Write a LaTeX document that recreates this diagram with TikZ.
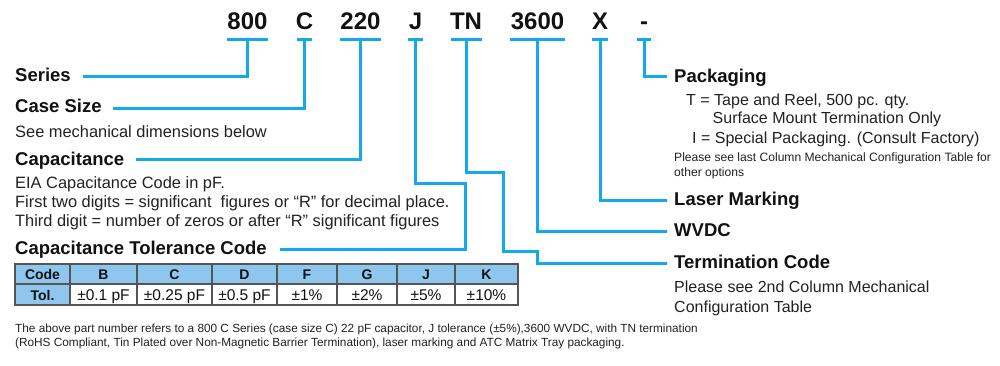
\documentclass[tikz,border=0pt]{standalone}
\usepackage{fontspec}
\setmainfont{Liberation Sans}
\usetikzlibrary{calc}
\definecolor{lineblue}{HTML}{12AAEB}
\definecolor{cellblue}{HTML}{8EC6EE}
\definecolor{txt}{HTML}{111111}
\definecolor{bodytxt}{HTML}{222222}
\definecolor{gridgray}{HTML}{555555}
\begin{document}
\begin{tikzpicture}[x=1pt,y=-1pt,
  conn/.style={draw=lineblue,line width=3pt},
  codelbl/.style={font=\fontsize{24}{24}\selectfont\bfseries,text=txt,anchor=base,
    inner sep=0pt,text height=17pt,text depth=9pt},
  hd/.style={font=\fontsize{18.5}{20}\selectfont\bfseries,text=txt,anchor=base west,inner sep=0pt},
  bd/.style={font=\fontsize{16}{19}\selectfont,text=bodytxt,anchor=base west,inner sep=0pt},
  bdcase/.style={font=\fontsize{16.4}{19}\selectfont,text=bodytxt,anchor=base west,inner sep=0pt},
  bdsmall/.style={font=\fontsize{16.4}{19}\selectfont,text=bodytxt,anchor=base west,inner sep=0pt},
  note/.style={font=\fontsize{12.1}{14}\selectfont,text=bodytxt,anchor=base west,inner sep=0pt},
  fn/.style={font=\fontsize{11.8}{14}\selectfont,text=bodytxt,anchor=base west,inner sep=0pt},
  cell/.style={draw=gridgray,line width=1.5pt,inner sep=0pt,anchor=center,text=txt},
  headcell/.style={cell,fill=cellblue,font=\fontsize{14}{14}\selectfont\bfseries,
    text height=10.5pt,text depth=0pt,minimum height=20pt},
  valcell/.style={cell,fill=white,font=\fontsize{15.5}{15}\selectfont,
    text height=11pt,text depth=0pt,minimum height=21pt},
]
\useasboundingbox[fill=white] (0,0) rectangle (1000,366);

% ---- part number codes ----
\node[codelbl] (n800)  at (247.5,30) {800};
\node[codelbl] (nC)    at (304.5,30) {C};
\node[codelbl] (n220)  at (360.5,30) {220};
\node[codelbl] (nJ)    at (415.5,30) {J};
\node[codelbl] (nTN)   at (466,30)   {TN};
\node[codelbl] (n3600) at (537.5,30) {3600};
\node[codelbl] (nX)    at (600,30)   {X};
\node[codelbl] (ndash) at (644,30)   {-};

% underlines
\foreach \n/\hw in {n800/20.5,nC/7.5,n220/20.5,nJ/7.5,nTN/15.5,n3600/27.5,nX/8,ndash/7}{
  \draw[conn] ($(\n.south)+(-\hw,0)$) -- ($(\n.south)+(\hw,0)$);
}

% ---- left headings and texts ----
\node[hd] (series) at (15,82) {Series};
\node[hd] (casesize) at (15,113) {Case Size};
\node[bdcase] (casetxt) at (15,138) {See mechanical dimensions below};
\node[hd] (cap) at (15,165) {Capacitance};
\node[bdsmall] (cap1) at (15,188.5) {EIA Capacitance Code in pF.};
\node[bdsmall] (cap2) at (15,207.5) {First two digits = significant~ figures or “R” for decimal place.};
\node[bdsmall] (cap3) at (15,226.5) {Third digit = number of zeros or after “R” significant figures};
\node[hd] (tol) at (15,254) {Capacitance Tolerance Code};

% ---- right headings and texts ----
\node[hd] (pack) at (674,83) {Packaging};
\node[bd] (pack1) at (686,106) {T = Tape and Reel, 500 pc. qty.};
\node[bd] (pack2) at (712.5,124) {Surface Mount Termination Only};
\node[bd] (pack3) at (692,143.5) {I = Special Packaging. (Consult Factory)};
\node[note] (pack4) at (674,162) {Please see last Column Mechanical Configuration Table for};
\node[note] (pack5) at (674,176) {other options};
\node[hd] (laser) at (674,205) {Laser Marking};
\node[hd] (wvdc) at (674,236) {WVDC};
\node[hd] (term) at (674,268) {Termination Code};
\node[bd] (term1) at (674,292) {Please see 2nd Column Mechanical};
\node[bd] (term2) at (674,312) {Configuration Table};

% ---- connector end points ----
\coordinate (seriesL) at (83,77);
\coordinate (caseL) at (113,109);
\coordinate (capL) at (136,160);
\coordinate (jA) at (465,183);
\coordinate (tolL) at (280,249);
\coordinate (tA) at (503,173);
\coordinate (tB) at (537,251);
\coordinate (termR) at (667,263);
\coordinate (wvdcR) at (667,231);
\coordinate (laserR) at (667,200);
\coordinate (packR) at (667,77);

\draw[conn] (n800.south) |- (seriesL);
\draw[conn] (nC.south) |- (caseL);
\draw[conn] (n220.south) |- (capL);
\draw[conn] (nJ.south) |- (jA) |- (tolL);
\draw[conn] (nTN.south) |- (tA) |- (tB) |- (termR);
\draw[conn] (n3600.south) |- (wvdcR);
\draw[conn] (nX.south) |- (laserR);
\draw[conn] (ndash.south) |- (packR);

% ---- tolerance table ----
\foreach \i/\xa/\xb/\h/\v in {0/15/70/Code/Tol.,1/70/137/B/±0.1 pF,2/137/212/C/±0.25 pF,
  3/212/277/D/±0.5 pF,4/277/337/F/±1\%,5/337/397/G/±2\%,6/397/455/J/±5\%,7/455/518/K/±10\%}{
  \pgfmathsetmacro\w{\xb-\xa}
  \pgfmathsetmacro\cx{(\xa+\xb)/2}
  \node[headcell,minimum width=\w pt] (h\i) at (\cx,274) {\h};
  \ifnum\i=0
    \node[valcell,fill=cellblue,font=\fontsize{14}{14}\selectfont\bfseries,minimum width=\w pt] (v\i) at (\cx,294.5) {\v};
  \else
    \node[valcell,minimum width=\w pt] (v\i) at (\cx,294.5) {\v};
  \fi
}

% ---- footnote ----
\node[fn] (foot1) at (15,332.5) {The above part number refers to a 800 C Series (case size C) 22 pF capacitor, J tolerance (±5\%),3600 WVDC, with TN termination};
\node[fn] (foot2) at (15,346.5) {(RoHS Compliant, Tin Plated over Non-Magnetic Barrier Termination), laser marking and ATC Matrix Tray packaging.};
\end{tikzpicture}
\end{document}
